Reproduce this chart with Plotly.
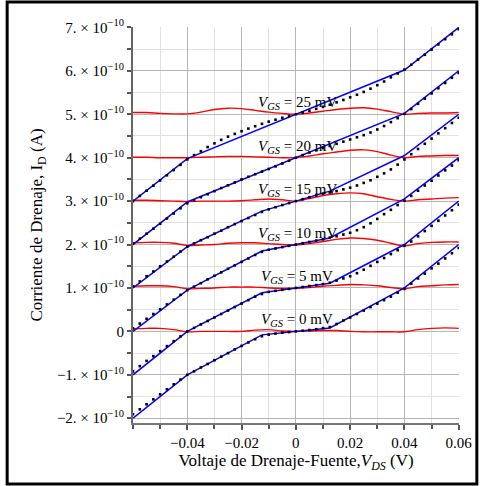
import plotly.graph_objects as go

# ---------------- data (current in units of 1e-10 A) ----------------
vgs_labels = ["0", "5", "10", "15", "20", "25"]
levels = [0, 1, 2, 3, 4, 5]

blue_x4 = [-0.06, -0.04, -0.0125, 0.0125, 0.04, 0.06]
blue_x2 = [-0.06, -0.04, 0.04, 0.06]
blue_vgs0 = [-2.0, -1.0, -0.08, 0.08, 1.0, 2.0]
blue_vgs5 = [-1.0, 0.0, 0.89, 1.11, 2.0, 3.0]
blue_vgs10 = [0.0, 0.95, 1.85, 2.15, 3.05, 4.0]
blue_vgs15 = [1.0, 1.95, 2.77, 3.23, 4.05, 5.0]
blue_vgs20 = [2.0, 2.98, 5.02, 6.0]
blue_vgs25 = [3.0, 3.98, 6.02, 7.0]

dot_x = [-0.06, -0.0575, -0.055, -0.0525, -0.05, -0.0475, -0.045, -0.0425, -0.04,
         -0.0375, -0.035, -0.0325, -0.03, -0.0275, -0.025, -0.0225, -0.02, -0.0175,
         -0.015, -0.0125, -0.01, -0.0075, -0.005, -0.0025, 0.0, 0.0025, 0.005, 0.0075,
         0.01, 0.0125, 0.015, 0.0175, 0.02, 0.0225, 0.025, 0.0275, 0.03, 0.0325, 0.035,
         0.0375, 0.04, 0.0425, 0.045, 0.0475, 0.05, 0.0525, 0.055, 0.0575, 0.06]
dots_vgs0 = [-1.91, -1.795, -1.68, -1.565, -1.45, -1.335, -1.22, -1.11, -1.0,
             -0.92, -0.83, -0.75, -0.665, -0.58, -0.50, -0.415, -0.335, -0.255, -0.18, -0.11,
             -0.075, -0.05, -0.03, -0.015, 0.0,
             0.015, 0.03, 0.05, 0.075, 0.10,
             0.17, 0.25, 0.32, 0.40, 0.48, 0.56, 0.64, 0.72, 0.80, 0.89, 0.98,
             1.10, 1.22, 1.33, 1.45, 1.56, 1.68, 1.80, 1.92]
dots_vgs5 = [-0.92, -0.80, -0.68, -0.57, -0.455, -0.34, -0.225, -0.115, 0.0,
             0.08, 0.16, 0.24, 0.32, 0.40, 0.48, 0.56, 0.64, 0.72, 0.80, 0.86,
             0.91, 0.934, 0.956, 0.978, 1.0,
             1.022, 1.044, 1.066, 1.09, 1.12,
             1.17, 1.22, 1.27, 1.34, 1.42, 1.51, 1.60, 1.69, 1.78, 1.87, 1.97,
             2.07, 2.19, 2.31, 2.43, 2.55, 2.67, 2.79, 2.92]
dots_vgs10 = [0.07, 0.18, 0.29, 0.40, 0.51, 0.62, 0.73, 0.84, 0.95,
              1.03, 1.11, 1.20, 1.28, 1.36, 1.44, 1.52, 1.60, 1.68, 1.76, 1.83,
              1.88, 1.91, 1.94, 1.97, 2.0,
              2.03, 2.06, 2.09, 2.12, 2.16,
              2.19, 2.23, 2.27, 2.33, 2.40, 2.49, 2.59, 2.70, 2.80, 2.91, 3.01,
              3.12, 3.24, 3.36, 3.47, 3.59, 3.71, 3.82, 3.94]
dots_vgs15 = [1.04, 1.15, 1.27, 1.38, 1.50, 1.61, 1.72, 1.84, 1.95,
              2.025, 2.10, 2.17, 2.25, 2.32, 2.40, 2.47, 2.54, 2.61, 2.68, 2.75,
              2.81, 2.86, 2.91, 2.955, 3.0,
              3.045, 3.09, 3.13, 3.17, 3.20,
              3.23, 3.27, 3.31, 3.36, 3.42, 3.48, 3.56, 3.64, 3.73, 3.84, 3.96,
              4.08, 4.20, 4.32, 4.44, 4.56, 4.68, 4.80, 4.92]
dots_vgs20 = [2.02, 2.135, 2.25, 2.365, 2.48, 2.60, 2.715, 2.835, 2.95,
              3.02, 3.09, 3.16, 3.23, 3.30, 3.365, 3.43, 3.50, 3.56, 3.62, 3.68,
              3.74, 3.80, 3.865, 3.93, 4.0,
              4.06, 4.12, 4.17, 4.22, 4.27,
              4.32, 4.37, 4.42, 4.47, 4.52, 4.58, 4.65, 4.73, 4.82, 4.91, 5.01,
              5.12, 5.24, 5.36, 5.48, 5.60, 5.72, 5.84, 5.95]
dots_vgs25 = [3.0, 3.12, 3.24, 3.355, 3.475, 3.595, 3.715, 3.835, 3.96,
              4.06, 4.15, 4.245, 4.33, 4.41, 4.485, 4.55, 4.61, 4.67, 4.725, 4.78,
              4.83, 4.875, 4.92, 4.96, 5.0,
              5.04, 5.08, 5.125, 5.17, 5.22,
              5.275, 5.33, 5.39, 5.45, 5.515, 5.59, 5.67, 5.755, 5.85, 5.94, 6.03,
              6.14, 6.26, 6.37, 6.49, 6.61, 6.73, 6.84, 6.96]

red_x = [-0.06, -0.055, -0.05, -0.045, -0.04, -0.035, -0.03, -0.025, -0.02, -0.015,
         -0.01, -0.005, 0.0, 0.005, 0.01, 0.015, 0.02, 0.025, 0.03, 0.035, 0.04,
         0.045, 0.05, 0.055, 0.06]
red_vgs0 = [0.06, 0.07, 0.07, 0.04, -0.01, 0.0, 0.0, 0.0, 0.0, 0.03, 0.04, 0.01, 0.0,
            0.01, 0.02, 0.02, 0.0, -0.01, -0.01, -0.01, -0.01, 0.04, 0.07, 0.08, 0.07]
red_vgs5 = [1.04, 1.05, 1.05, 1.03, 0.98, 0.99, 1.0, 1.02, 1.02, 1.02, 1.0, 0.99, 0.99,
            1.01, 1.04, 1.06, 1.08, 1.07, 1.05, 1.01, 0.98, 1.03, 1.05, 1.07, 1.08]
red_vgs10 = [2.04, 2.05, 2.05, 2.03, 1.98, 1.99, 2.0, 2.03, 2.04, 2.04, 2.02, 2.0, 1.99,
             2.02, 2.07, 2.12, 2.15, 2.14, 2.10, 2.03, 1.97, 2.02, 2.05, 2.06, 2.06]
red_vgs15 = [3.02, 3.02, 3.01, 3.0, 2.99, 3.0, 3.0, 3.0, 3.01, 3.03, 3.05, 3.03, 3.0,
             3.06, 3.13, 3.17, 3.19, 3.17, 3.10, 3.04, 3.0, 3.03, 3.05, 3.07, 3.08]
red_vgs20 = [4.01, 4.01, 4.0, 4.0, 4.0, 4.01, 4.02, 4.03, 4.03, 4.02, 4.01, 4.0, 4.0,
             4.04, 4.09, 4.13, 4.17, 4.18, 4.14, 4.06, 4.0, 4.03, 4.04, 4.05, 4.05]
red_vgs25 = [5.04, 5.04, 5.02, 5.01, 5.01, 5.05, 5.11, 5.14, 5.13, 5.09, 5.05, 5.02, 5.0,
             5.03, 5.07, 5.11, 5.14, 5.15, 5.12, 5.06, 5.0, 5.02, 5.03, 5.03, 5.04]

x_tickvals = [-0.04, -0.02, 0, 0.02, 0.04, 0.06]
x_ticktext = ["\u22120.04", "\u22120.02", "0", "0.02", "0.04", "0.06"]
y_tickvals = [-2, -1, 0, 1, 2, 3, 4, 5, 6, 7]
y_ticktext = ["\u22122. \u00d7 10<sup>\u221210</sup>", "\u22121. \u00d7 10<sup>\u221210</sup>", "0",
              "1. \u00d7 10<sup>\u221210</sup>", "2. \u00d7 10<sup>\u221210</sup>",
              "3. \u00d7 10<sup>\u221210</sup>", "4. \u00d7 10<sup>\u221210</sup>",
              "5. \u00d7 10<sup>\u221210</sup>", "6. \u00d7 10<sup>\u221210</sup>",
              "7. \u00d7 10<sup>\u221210</sup>"]

# ---------------- figure ----------------
FONT = "Liberation Serif, Times New Roman, serif"
fig = go.Figure()

reds = [red_vgs0, red_vgs5, red_vgs10, red_vgs15, red_vgs20, red_vgs25]
blues = [(blue_x4, blue_vgs0), (blue_x4, blue_vgs5), (blue_x4, blue_vgs10),
         (blue_x4, blue_vgs15), (blue_x2, blue_vgs20), (blue_x2, blue_vgs25)]
dots = [dots_vgs0, dots_vgs5, dots_vgs10, dots_vgs15, dots_vgs20, dots_vgs25]

for r in reds:
    fig.add_trace(go.Scatter(x=red_x, y=r, mode="lines",
                             line=dict(color="#ff0000", width=1.4, shape="spline"),
                             hoverinfo="skip"))
for bx, by in blues:
    fig.add_trace(go.Scatter(x=bx, y=by, mode="lines",
                             line=dict(color="#0000ff", width=1.5), hoverinfo="skip"))
for d in dots:
    fig.add_trace(go.Scatter(x=dot_x, y=d, mode="markers",
                             marker=dict(symbol="square", size=2.6, color="black"),
                             hoverinfo="skip"))

for lab, lev in zip(vgs_labels, levels):
    fig.add_annotation(x=0.0005, y=lev, xref="x", yref="y", showarrow=False,
                       xanchor="center", yanchor="bottom",
                       text="<i>V</i><sub><i>GS</i></sub> = " + lab + " mV",
                       font=dict(family=FONT, size=15, color="black"))

L, R, T, B = 133, 22, 27, 63
W, H = 484, 486
pw, ph = W - L - R, H - T - B

def px(x):
    return (x - L) / pw

def py(y):
    return (H - B - y) / ph

fig.add_shape(type="rect", xref="paper", yref="paper",
              x0=px(6), x1=px(480), y0=py(484), y1=py(2),
              line=dict(color="black", width=3), layer="above")

fig.update_layout(
    width=W, height=H, margin=dict(l=L, r=R, t=T, b=B, pad=0),
    paper_bgcolor="white", plot_bgcolor="white", showlegend=False,
    font=dict(family=FONT, size=15, color="black"),
    xaxis=dict(range=[-0.06, 0.0601], tickmode="array", tickvals=x_tickvals,
               ticktext=x_ticktext, ticks="outside", ticklen=5, tickwidth=1.5,
               tickcolor="#555555", showline=True, linecolor="#777777", linewidth=2,
               showgrid=True, gridcolor="#b5b5b5", gridwidth=1.3, zeroline=False,
               tickfont=dict(family=FONT, size=15, color="black"),
               minor=dict(tickmode="linear", tick0=0, dtick=0.01, ticks="outside",
                          ticklen=4, tickcolor="#555555", showgrid=True,
                          gridcolor="#e2e2e2", gridwidth=1.3),
               title=dict(text="Voltaje de Drenaje-Fuente,<i>V</i><sub><i>DS</i></sub> (V)",
                          font=dict(family=FONT, size=17, color="black"), standoff=4)),
    yaxis=dict(range=[-2.11, 7.01], tickmode="array", tickvals=y_tickvals,
               ticktext=y_ticktext, ticks="outside", ticklen=4, tickwidth=1.5,
               tickcolor="#555555", showline=True, linecolor="#666666", linewidth=2,
               showgrid=True, gridcolor="#b5b5b5", gridwidth=1.3, zeroline=False,
               tickfont=dict(family=FONT, size=15, color="black"),
               minor=dict(tickmode="linear", tick0=0, dtick=0.5, ticks="outside",
                          ticklen=4, tickcolor="#555555", showgrid=True,
                          gridcolor="#e2e2e2", gridwidth=1.3),
               title=dict(text="Corriente de Drenaje, I<sub>D</sub> (A)",
                          font=dict(family=FONT, size=17, color="black"), standoff=10)),
)

fig.write_html("out.html")
